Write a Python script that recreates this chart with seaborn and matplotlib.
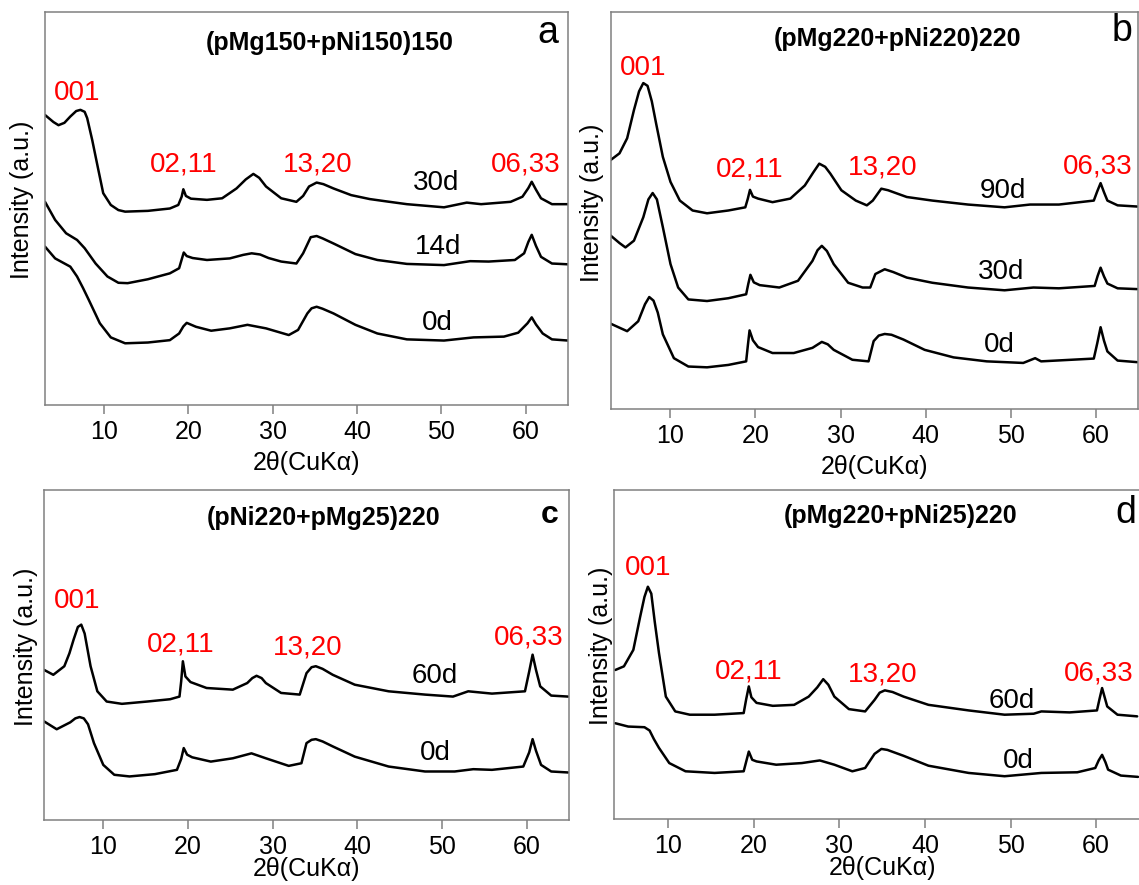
import matplotlib
matplotlib.use("Agg")
import matplotlib.pyplot as plt
import seaborn as sns
import pandas as pd

# ---- data (2theta, intensity in a.u. = % of panel height) ----
# panel a: (pMg150+pNi150)150
A_30D_X = [3.0, 4.0, 4.6, 5.3, 6.0, 6.7, 7.2, 7.7, 8.0, 8.6, 9.25, 9.9, 10.8, 11.7, 12.5, 15.2, 17.8, 18.8, 19.2, 19.4,
           19.7, 20.3, 22.2, 24.0, 25.7, 26.8, 27.7, 28.4, 29.2, 31.0, 32.8, 33.6, 34.3, 35.2, 36.0, 37.2, 39.3, 41.5,
           43.5, 45.9, 50.3, 53.0, 54.7, 58.2, 59.6, 60.3, 60.7, 61.2, 61.8, 63.1, 65.0]
A_30D_Y = [73.8, 72.0, 71.2, 71.8, 73.4, 74.8, 75.1, 74.6, 73.0, 67.4, 60.6, 53.9, 50.9, 49.6, 49.2, 49.4, 50.0, 50.9, 53.0, 54.9,
           53.2, 52.5, 52.2, 52.6, 55.1, 57.4, 58.8, 57.8, 55.6, 52.6, 51.7, 53.2, 55.6, 56.6, 56.2, 55.1, 53.4, 52.4,
           51.8, 51.1, 50.3, 51.5, 51.1, 51.7, 53.0, 55.2, 56.8, 54.8, 52.6, 51.1, 51.1]
A_14D_X = [3.0, 4.2, 5.5, 6.8, 7.7, 9.0, 10.4, 11.7, 12.8, 15.2, 17.8, 18.9, 19.2, 19.45, 19.8, 20.5, 22.2, 24.9, 26.5, 27.5,
           28.5, 29.5, 31.0, 32.8, 33.6, 34.5, 35.2, 35.9, 37.2, 39.8, 42.4, 45.9, 50.3, 53.4, 55.6, 58.7, 59.8, 60.3,
           60.7, 61.2, 61.8, 63.1, 65.0]
A_14D_Y = [51.7, 47.1, 43.7, 42.0, 39.9, 36.0, 32.7, 31.1, 31.0, 32.0, 33.5, 34.8, 37.0, 38.8, 37.9, 37.4, 36.9, 37.3, 38.2, 38.6,
           38.3, 37.4, 36.5, 36.0, 38.6, 42.7, 43.0, 42.4, 41.1, 38.4, 36.9, 35.9, 35.6, 36.6, 36.5, 36.9, 38.6, 41.5,
           43.3, 40.5, 37.7, 36.0, 35.8]
A_0D_X = [3.0, 4.2, 6.0, 6.8, 7.5, 8.2, 9.5, 10.8, 12.5, 15.2, 17.8, 18.9, 19.4, 19.8, 20.9, 22.7, 24.9, 27.0, 29.2, 31.9,
          33.0, 34.1, 34.6, 35.2, 35.9, 37.2, 39.8, 42.4, 45.9, 50.3, 53.8, 57.4, 59.1, 60.2, 60.7, 61.2, 62.0, 63.1, 65.0]
A_0D_Y = [40.3, 37.3, 35.2, 32.7, 29.8, 26.7, 20.8, 17.2, 15.7, 15.9, 16.5, 18.2, 20.0, 20.9, 19.9, 18.9, 19.5, 20.4, 19.5, 17.8,
          19.1, 23.3, 24.6, 25.0, 24.5, 23.3, 20.4, 18.2, 16.7, 16.4, 17.2, 17.4, 18.4, 20.8, 22.3, 20.5, 18.2, 16.7, 16.4]

# panel b: (pMg220+pNi220)220
B_90D_X = [2.95, 4.0, 4.9, 5.7, 6.3, 6.8, 7.3, 7.8, 8.3, 9.1, 10.0, 11.1, 12.6, 14.3, 16.8, 18.8, 19.1, 19.35, 19.7, 20.3,
           22.0, 24.1, 25.8, 26.8, 27.5, 28.2, 28.8, 30.1, 31.8, 33.1, 33.8, 34.8, 35.6, 36.5, 37.8, 40.8, 45.0, 49.3,
           52.3, 55.7, 59.8, 60.2, 60.6, 61.0, 61.4, 62.6, 64.9]
B_90D_Y = [62.7, 64.4, 68.2, 75.3, 80.0, 82.1, 81.4, 77.5, 72.0, 63.5, 57.2, 52.5, 50.0, 49.3, 50.0, 50.8, 53.0, 55.2, 53.5, 53.0,
           52.1, 53.0, 56.3, 59.6, 61.8, 61.0, 59.3, 55.1, 52.5, 51.3, 52.5, 55.5, 55.1, 54.4, 53.4, 52.5, 51.5, 50.8,
           51.5, 51.5, 52.5, 54.8, 56.9, 54.6, 52.5, 51.3, 51.0]
B_30D_X = [2.95, 4.0, 4.7, 5.7, 6.8, 7.4, 7.9, 8.4, 9.1, 10.0, 10.9, 12.1, 14.3, 16.8, 18.9, 19.15, 19.4, 19.8, 20.5, 22.8,
           25.0, 26.7, 27.3, 27.8, 28.4, 29.2, 30.9, 32.6, 33.5, 34.1, 35.2, 36.2, 37.8, 40.8, 45.0, 49.3, 52.7, 55.7,
           59.9, 60.25, 60.6, 61.0, 61.4, 62.6, 64.9]
B_30D_Y = [43.7, 41.8, 40.7, 42.4, 48.3, 52.8, 54.4, 52.8, 45.8, 36.5, 30.6, 27.6, 27.2, 27.9, 28.9, 31.5, 33.8, 31.9, 31.2, 30.6,
           32.3, 37.3, 40.0, 41.1, 39.8, 36.5, 31.8, 30.6, 30.6, 34.0, 35.2, 34.5, 33.1, 31.8, 30.6, 29.9, 30.6, 30.4,
           31.0, 33.5, 35.6, 33.4, 31.6, 30.4, 30.2]
B_0D_X = [2.95, 4.9, 6.2, 7.0, 7.5, 8.0, 8.5, 9.1, 10.4, 12.1, 14.3, 16.8, 18.9, 19.1, 19.3, 19.7, 20.3, 22.0, 24.5, 26.7,
          27.8, 28.5, 29.2, 31.4, 33.3, 33.9, 34.5, 35.2, 36.0, 37.4, 39.9, 43.3, 47.2, 51.5, 52.9, 53.6, 59.8, 60.2,
          60.6, 61.0, 61.4, 62.6, 64.9]
B_0D_Y = [21.5, 19.6, 22.1, 26.4, 28.2, 27.3, 24.3, 18.8, 12.8, 10.7, 10.5, 11.1, 12.0, 16.0, 19.8, 17.3, 15.6, 14.1, 14.1, 15.4,
          16.9, 16.3, 14.9, 12.4, 12.0, 17.1, 18.5, 18.9, 18.7, 17.5, 14.9, 13.0, 12.0, 11.6, 12.8, 12.0, 12.7, 16.5,
          20.6, 17.2, 14.5, 12.2, 11.8]

# panel c: (pNi220+pMg25)220
C_60D_X = [3.0, 4.1, 5.4, 6.0, 6.5, 7.0, 7.4, 7.8, 8.5, 9.3, 10.4, 12.2, 15.2, 17.9, 19.0, 19.2, 19.4, 19.7, 20.3, 22.2,
           25.3, 27.0, 27.6, 28.1, 28.7, 29.2, 31.0, 33.2, 34.0, 34.6, 35.1, 35.9, 37.1, 39.7, 43.7, 48.0, 51.3, 53.1,
           55.9, 59.8, 60.3, 60.7, 61.1, 61.6, 62.9, 64.9]
C_60D_Y = [45.5, 44.0, 46.6, 50.5, 54.7, 58.5, 59.2, 56.5, 46.6, 39.0, 35.9, 35.2, 35.9, 36.6, 37.4, 42.0, 48.1, 43.5, 41.8, 40.0,
           39.5, 41.5, 43.0, 43.7, 43.0, 41.5, 38.5, 38.0, 44.5, 46.3, 46.6, 45.8, 44.0, 41.0, 39.0, 38.0, 37.4, 39.0,
           38.3, 39.0, 45.0, 50.1, 45.5, 40.5, 37.7, 37.4]
C_0D_X = [3.0, 4.5, 6.1, 6.7, 7.2, 7.7, 8.2, 8.9, 10.0, 11.3, 13.1, 16.1, 18.7, 19.2, 19.5, 19.9, 20.5, 22.7, 25.3, 27.5,
          29.2, 31.9, 33.4, 34.0, 34.6, 35.1, 35.9, 37.1, 39.7, 43.7, 48.0, 51.5, 53.7, 55.9, 59.6, 60.3, 60.7, 61.1,
          61.7, 62.9, 64.9]
C_0D_Y = [29.9, 27.5, 29.6, 30.8, 31.2, 30.8, 29.0, 23.3, 16.7, 13.7, 13.2, 13.9, 15.2, 18.5, 21.8, 19.8, 19.0, 17.7, 18.7, 20.2,
          18.7, 16.4, 17.2, 23.3, 24.3, 24.5, 23.8, 22.3, 19.2, 16.2, 14.7, 14.7, 15.4, 15.2, 16.2, 20.5, 24.5, 21.0,
          16.7, 14.7, 14.4]

# panel d: (pMg220+pNi25)220
D_60D_X = [3.8, 4.8, 5.9, 6.7, 7.2, 7.6, 8.0, 8.4, 8.9, 9.7, 10.8, 12.5, 15.4, 18.8, 19.1, 19.4, 19.7, 20.3, 22.2, 24.7,
           26.4, 27.4, 28.1, 28.7, 29.4, 31.1, 33.0, 34.1, 34.7, 35.3, 36.2, 37.5, 40.4, 45.1, 49.3, 52.7, 53.6, 56.9,
           60.1, 60.4, 60.7, 61.0, 61.3, 62.5, 64.8]
D_60D_Y = [45.3, 46.4, 51.4, 61.5, 67.5, 70.6, 68.5, 60.0, 50.4, 37.2, 32.7, 31.7, 31.7, 32.2, 36.5, 40.3, 37.0, 35.3, 34.4, 34.7,
           37.2, 40.0, 42.5, 40.8, 37.2, 33.4, 32.7, 36.2, 38.4, 39.1, 38.6, 37.2, 34.7, 33.0, 31.7, 32.0, 32.7, 32.4,
           33.0, 36.5, 39.8, 37.0, 34.2, 31.7, 31.2]
D_0D_X = [3.8, 5.3, 7.2, 7.8, 8.3, 8.9, 10.1, 12.0, 15.4, 18.8, 19.1, 19.4, 19.8, 20.3, 22.6, 25.6, 27.7, 29.4, 31.5, 33.0,
          34.1, 34.9, 35.6, 37.5, 40.4, 45.1, 49.3, 53.6, 57.8, 59.9, 60.3, 60.7, 61.1, 61.4, 62.9, 64.9]
D_0D_Y = [29.1, 28.1, 27.9, 26.9, 24.3, 21.6, 17.0, 14.5, 14.0, 14.5, 17.5, 20.5, 18.0, 17.5, 16.5, 17.0, 17.8, 16.5, 14.5, 15.5,
          19.8, 21.3, 21.0, 19.2, 16.2, 14.0, 13.0, 14.0, 14.2, 15.5, 17.8, 19.5, 17.2, 15.0, 13.2, 12.8]

PEAK_NAMES = ["001", "02,11", "13,20", "06,33"]
TITLES = ["(pMg150+pNi150)150", "(pMg220+pNi220)220", "(pNi220+pMg25)220", "(pMg220+pNi25)220"]
LETTERS = ["a", "b", "c", "d"]
DAYS = [["30d", "14d", "0d"], ["90d", "30d", "0d"], ["60d", "0d"], ["60d", "0d"]]

sns.set_style("white")
plt.rcParams['font.family'] = ['Liberation Sans', 'DejaVu Sans']
plt.rcParams['text.color'] = 'black'
plt.rcParams['axes.labelcolor'] = 'black'

fig = plt.figure(figsize=(11.39, 8.85), dpi=100)

W, H = 1139, 885


def px_rect(left, top, right, bottom):
    return [left / W, (H - bottom) / H, (right - left) / W, (bottom - top) / H]


panels = [
    dict(rect=px_rect(45, 12, 568, 405), xlim=(3, 65),
         curves=[(A_30D_X, A_30D_Y), (A_14D_X, A_14D_Y), (A_0D_X, A_0D_Y)],
         peaks=[(6.8, 79.3), (19.4, 61.3), (35.3, 61.3), (60.0, 61.3)],
         days=[(49.4, 56.4), (49.6, 40.3), (49.5, 20.8)],
         title=(36.7, 92.2), letter=(62.6, 94.6), ylab=(-0.044, 0.522), xpad=5),
    dict(rect=px_rect(611, 12, 1138, 409), xlim=(3, 65),
         curves=[(B_90D_X, B_90D_Y), (B_30D_X, B_30D_Y), (B_0D_X, B_0D_Y)],
         peaks=[(6.8, 85.9), (19.3, 60.3), (35.0, 60.8), (60.3, 61.0)],
         days=[(49.1, 54.9), (48.9, 34.4), (48.7, 16.2)],
         title=(36.7, 93.1), letter=(63.1, 95.2), ylab=(-0.036, 0.519), xpad=5),
    dict(rect=px_rect(44, 490, 569, 820), xlim=(3, 65),
         curves=[(C_60D_X, C_60D_Y), (C_0D_X, C_0D_Y)],
         peaks=[(6.9, 66.3), (19.2, 53.1), (34.1, 52.4), (60.2, 55.2)],
         days=[(49.2, 43.7), (49.2, 20.4)],
         title=(36.0, 91.6), letter=(62.7, 92.3), ylab=(-0.034, 0.526), xpad=-1),
    dict(rect=px_rect(614, 490, 1150, 819), xlim=(3.64, 66.3),
         curves=[(D_60D_X, D_60D_Y), (D_0D_X, D_0D_Y)],
         peaks=[(7.6, 76.2), (19.4, 44.8), (35.1, 43.8), (60.3, 44.3)],
         days=[(50.1, 36.0), (50.9, 17.5)],
         title=(37.1, 92.1), letter=(63.5, 92.9), ylab=(-0.024, 0.527), xpad=-1),
]

for i, p in enumerate(panels):
    ax = fig.add_axes(p['rect'])
    for xs, ys in p['curves']:
        df = pd.DataFrame({'two_theta': xs, 'intensity': ys})
        sns.lineplot(data=df, x='two_theta', y='intensity', ax=ax, color='black',
                     linewidth=1.8, estimator=None, legend=False)
    ax.set_xlim(*p['xlim'])
    ax.set_ylim(0, 100)
    ax.set_xticks([10, 20, 30, 40, 50, 60])
    ax.set_yticks([])
    ax.tick_params(axis='x', bottom=True, direction='out', length=6.5, width=1.1,
                   color='#808080', labelcolor='black', labelsize=18, pad=4)
    for s in ax.spines.values():
        s.set_color('#808080')
        s.set_linewidth(1.1)
    ax.set_xlabel("2θ(CuKα)", fontsize=18, labelpad=p['xpad'], color='black')
    ax.set_ylabel("")
    ax.text(p['ylab'][0], p['ylab'][1], "Intensity (a.u.)", transform=ax.transAxes,
            rotation=90, ha='center', va='center', fontsize=18)

    for name, (px, py) in zip(PEAK_NAMES, p['peaks']):
        ax.text(px, py, name, color='#ff0000', fontsize=20, ha='center', va='center')
    for lab, (dx, dy) in zip(DAYS[i], p['days']):
        ax.text(dx, dy, lab, color='black', fontsize=20, ha='center', va='center')

    ax.text(p['title'][0], p['title'][1], TITLES[i], fontsize=18, fontweight='bold',
            ha='center', va='center')
    if LETTERS[i] == 'c':
        ax.text(p['letter'][0], p['letter'][1], 'c', fontsize=23, fontweight='bold',
                ha='center', va='center')
    else:
        ax.text(p['letter'][0], p['letter'][1], LETTERS[i], fontsize=27,
                ha='center', va='center')

fig.savefig("out.png", dpi=100)
